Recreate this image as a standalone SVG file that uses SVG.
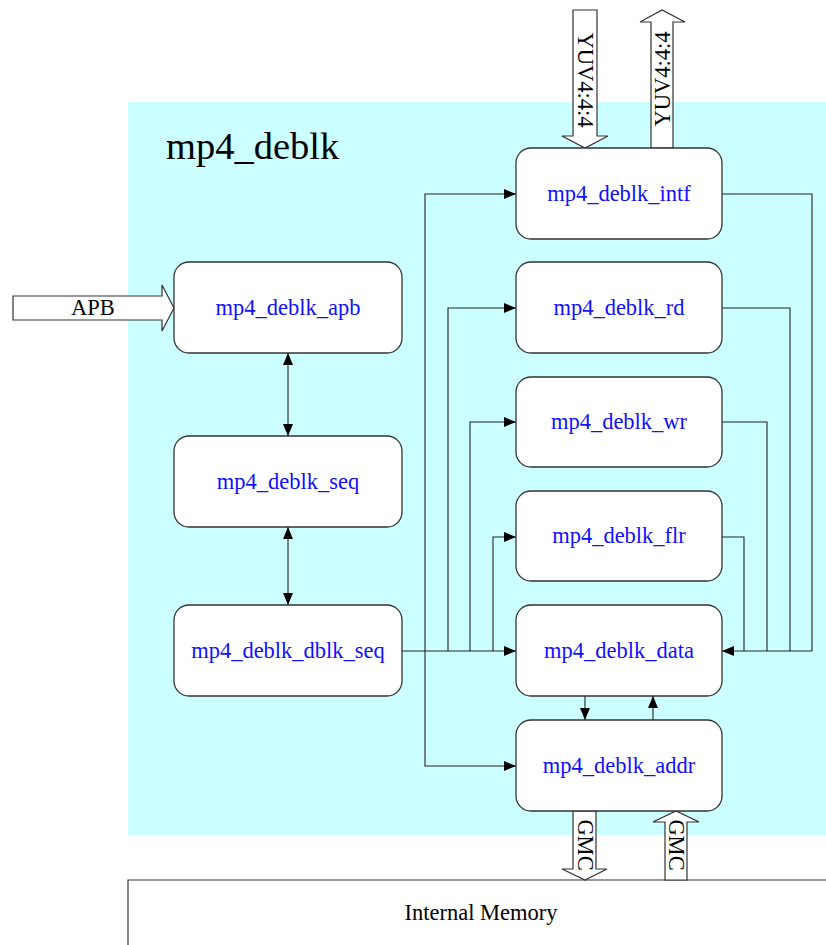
<svg xmlns="http://www.w3.org/2000/svg" width="826" height="945" viewBox="0 0 826 945">
<style>
.node{fill:#fff;stroke:#333;stroke-width:1.3}
.lbl{font-family:"Liberation Serif",serif;font-size:22.5px;fill:#1010ff;text-anchor:middle}
.txt{font-family:"Liberation Serif",serif;font-size:22.5px;fill:#000;text-anchor:middle}
.bus{fill:#fff;stroke:#333;stroke-width:1.2}
.wire{fill:none;stroke:#222;stroke-width:1.1}
</style>
<defs>
<marker id="ah" viewBox="0 0 12 10" refX="12" refY="5" markerWidth="12" markerHeight="10" markerUnits="userSpaceOnUse" orient="auto-start-reverse">
<path d="M0,0 L12,5 L0,10 Z" fill="#000"/>
</marker>
</defs>
<rect x="0" y="0" width="826" height="945" fill="#fff"/>
<rect id="mp4_deblk_bg" x="128" y="102" width="698" height="733" fill="#ccffff"/>
<text x="166" y="159" font-family="Liberation Serif,serif" font-size="38.5" fill="#000">mp4_deblk</text>

<g id="internal_memory">
<path d="M128,945 L128,880 L826,880" fill="#fff" stroke="#333" stroke-width="1.2"/>
<text class="txt" x="481" y="920">Internal Memory</text>
</g>

<g id="connectors">
<line class="wire" x1="288" y1="353" x2="288" y2="436" marker-start="url(#ah)" marker-end="url(#ah)"/>
<line class="wire" x1="288" y1="527" x2="288" y2="605" marker-start="url(#ah)" marker-end="url(#ah)"/>
<line class="wire" x1="402" y1="651" x2="516" y2="651" marker-end="url(#ah)"/>
<path class="wire" d="M425,651 L425,194 L516,194" marker-end="url(#ah)"/>
<path class="wire" d="M425,651 L425,766 L516,766" marker-end="url(#ah)"/>
<path class="wire" d="M448,651 L448,308 L516,308" marker-end="url(#ah)"/>
<path class="wire" d="M470,651 L470,422 L516,422" marker-end="url(#ah)"/>
<path class="wire" d="M493,651 L493,537 L516,537" marker-end="url(#ah)"/>
<path class="wire" d="M722,194 L812,194 L812,651"/>
<path class="wire" d="M722,308 L790,308 L790,651"/>
<path class="wire" d="M722,422 L767,422 L767,651"/>
<path class="wire" d="M722,537 L744,537 L744,651"/>
<line class="wire" x1="812" y1="651" x2="722" y2="651" marker-end="url(#ah)"/>
<line class="wire" x1="585" y1="696" x2="585" y2="720" marker-end="url(#ah)"/>
<line class="wire" x1="653" y1="720" x2="653" y2="696" marker-end="url(#ah)"/>
</g>

<g id="bus_yuv_in">
<polygon class="bus" points="573,10 597,10 597,136 608,136 585,148 562,136 573,136"/>
<text class="txt" transform="translate(585,80) rotate(90)" dominant-baseline="central">YUV4:4:4</text>
</g>
<g id="bus_yuv_out">
<polygon class="bus" points="651,148 673,148 673,22 685,22 662,10 640,22 651,22"/>
<text class="txt" transform="translate(662,79) rotate(-90)" dominant-baseline="central">YUV4:4:4</text>
</g>
<g id="bus_apb">
<polygon class="bus" points="13,296 162,296 162,285 174,308 162,331 162,320 13,320"/>
<text class="txt" x="93" y="315">APB</text>
</g>
<g id="bus_gmc_out">
<polygon class="bus" points="573,811 596,811 596,869 607,869 585,880 562,869 573,869"/>
<text class="txt" transform="translate(585,845) rotate(90)" dominant-baseline="central">GMC</text>
</g>
<g id="bus_gmc_in">
<polygon class="bus" points="665,880 687,880 687,822 699,822 676,811 653,822 665,822"/>
<text class="txt" transform="translate(676,845) rotate(90)" dominant-baseline="central">GMC</text>
</g>

<g id="mp4_deblk_apb">
<rect class="node" x="174" y="262" width="228" height="91" rx="15"/>
<text class="lbl" x="288" y="315">mp4_deblk_apb</text>
</g>
<g id="mp4_deblk_seq">
<rect class="node" x="174" y="436" width="228" height="91" rx="15"/>
<text class="lbl" x="288" y="489">mp4_deblk_seq</text>
</g>
<g id="mp4_deblk_dblk_seq">
<rect class="node" x="174" y="605" width="228" height="91" rx="15"/>
<text class="lbl" x="288" y="658">mp4_deblk_dblk_seq</text>
</g>
<g id="mp4_deblk_intf">
<rect class="node" x="516" y="148" width="206" height="91" rx="15"/>
<text class="lbl" x="619" y="201">mp4_deblk_intf</text>
</g>
<g id="mp4_deblk_rd">
<rect class="node" x="516" y="262" width="206" height="91" rx="15"/>
<text class="lbl" x="619" y="315">mp4_deblk_rd</text>
</g>
<g id="mp4_deblk_wr">
<rect class="node" x="516" y="377" width="206" height="90" rx="15"/>
<text class="lbl" x="619" y="429">mp4_deblk_wr</text>
</g>
<g id="mp4_deblk_flr">
<rect class="node" x="516" y="491" width="206" height="90" rx="15"/>
<text class="lbl" x="619" y="543">mp4_deblk_flr</text>
</g>
<g id="mp4_deblk_data">
<rect class="node" x="516" y="605" width="206" height="91" rx="15"/>
<text class="lbl" x="619" y="658">mp4_deblk_data</text>
</g>
<g id="mp4_deblk_addr">
<rect class="node" x="516" y="720" width="206" height="91" rx="15"/>
<text class="lbl" x="619" y="773">mp4_deblk_addr</text>
</g>
</svg>
